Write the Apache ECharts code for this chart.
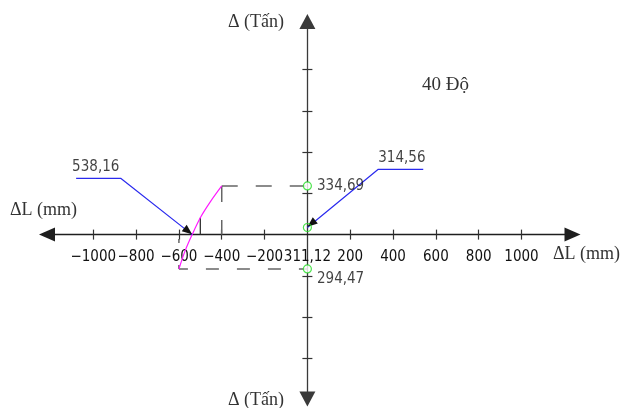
<!DOCTYPE html>
<html>
<head>
<meta charset="utf-8">
<script src="https://cdn.jsdelivr.net/npm/echarts@6/dist/echarts.min.js"></script>
<style>
  html, body { margin: 0; padding: 0; background: #ffffff; }
  #chart { width: 622px; height: 408px; }
</style>
</head>
<body>
<div id="chart"></div>
<script>
// Load–displacement diagram at 40°: ΔL (mm) against load Δ (Tấn).
// The ΔL axis crosses the load axis at BASE_LOAD; loads are plotted relative to it.
const BASE_LOAD = 311.12;

// Axis ticks and labels
const xTickValues  = [-1000, -800, -600, -400, -200, 200, 400, 600, 800, 1000];
const xLabelValues = [-1000, -800, -600, -400, -200, 0, 200, 400, 600, 800, 1000];
const yTickOffsets = [-60, -40, -20, 20, 40, 60, 80];

// Load curve (magenta)
const curveDisp = [-600, -572, -538.16, -500, -452, -400];
const curveLoad = [294.47, 303.0, 311.12, 319.3, 327.2, 334.69];

// Dashed guides: upper and lower corners
const upperCorner = [-400, 334.69];
const lowerCorner = [-600, 294.47];

// Short marker from the ΔL axis up to the curve
const markerDisp = -500;
const markerLoad = 319.3;

// Points on the load axis (green circles)
const axisPointLoads = [334.69, 314.56, 294.47];

// Leader lines: free end, elbow, tip
const leftLeaderDisp  = [-1080, -872, -538.16];
const leftLeaderLoad  = [338.4, 338.4, 311.12];
const leftLeaderValue = 538.16;
const rightLeaderDisp = [541, 331, 0];
const rightLeaderLoad = [342.76, 342.76, 314.56];
const rightLeaderValue = 314.56;

const fmt = v => Math.abs(v).toFixed(2).replace('.', ',');
const rel = t => t - BASE_LOAD;
const pts = (xs, ys) => xs.map((x, i) => [x, rel(ys[i])]);

const NUM_FONT = "'DejaVu Sans Condensed', 'Roboto', sans-serif";
const SERIF = "'Liberation Serif', 'DejaVu Serif', serif";
const NUM_SIZE = 15;

// Axis extents
const X_MIN = -1216, X_MAX = 1238;
const Y_MIN = -79.65, Y_MAX = 103.25;
const GRID = { left: 47, right: 49.5, top: 21.5, bottom: 9 };
// Distance of the ΔL axis from the bottom of the grid (where load offset is 0)
const plotH = 408 - GRID.top - GRID.bottom;
const xAxisLift = plotH * (0 - Y_MIN) / (Y_MAX - Y_MIN);

const chart = echarts.init(document.getElementById('chart'), null, { renderer: 'canvas' });

const xBase = { type: 'value', min: X_MIN, max: X_MAX, splitLine: { show: false } };
const yBase = { type: 'value', min: Y_MIN, max: Y_MAX, splitLine: { show: false } };
const tickStyle = { color: '#333', width: 1.2 };
const labelStyle = { fontFamily: NUM_FONT, fontSize: NUM_SIZE, color: '#111' };

const option = {
  animation: false,
  backgroundColor: '#ffffff',
  grid: Object.assign({ containLabel: false, outerBoundsMode: 'none' }, GRID),
  xAxis: [
    Object.assign({}, xBase, {
      position: 'bottom',
      offset: -xAxisLift,
      axisLine: {
        show: true, onZero: false,
        symbol: ['triangle', 'triangle'], symbolSize: [14, 16],
        lineStyle: { color: '#1e1e1e', width: 1.3 }
      },
      axisTick: { show: true, customValues: xTickValues, length: 5, lineStyle: tickStyle },
      axisLabel: Object.assign({
        show: true, customValues: xLabelValues, margin: 15,
        formatter: v => v === 0 ? fmt(BASE_LOAD) : (v < 0 ? '\u2212' + Math.abs(v) : String(v))
      }, labelStyle)
    }),
    Object.assign({}, xBase, {
      position: 'top',
      axisLine: { show: false, onZero: true, onZeroAxisIndex: 0 },
      axisTick: { show: true, customValues: xTickValues, length: 5, lineStyle: tickStyle },
      axisLabel: { show: false }
    })
  ],
  yAxis: [
    Object.assign({}, yBase, {
      position: 'left',
      axisLine: {
        show: true, onZero: true, onZeroAxisIndex: 0,
        symbol: ['triangle', 'triangle'], symbolSize: [16, 15],
        lineStyle: { color: '#3a3a3a', width: 1.3 }
      },
      axisTick: { show: true, customValues: yTickOffsets, length: 5, lineStyle: tickStyle },
      axisLabel: { show: false }
    }),
    Object.assign({}, yBase, {
      position: 'right',
      axisLine: { show: false, onZero: true, onZeroAxisIndex: 0 },
      axisTick: { show: true, customValues: yTickOffsets, length: 5, lineStyle: tickStyle },
      axisLabel: { show: false }
    })
  ],
  graphic: [
    { type: 'text', left: 10, top: 201, style: { text: '\u0394L (mm)', font: '18px ' + SERIF, fill: '#333' } },
    { type: 'text', left: 553, top: 245, style: { text: '\u0394L (mm)', font: '18px ' + SERIF, fill: '#333' } },
    { type: 'text', left: 228, top: 13, style: { text: '\u0394 (Tấn)', font: '18px ' + SERIF, fill: '#333' } },
    { type: 'text', left: 228, top: 391, style: { text: '\u0394 (Tấn)', font: '18px ' + SERIF, fill: '#333' } },
    { type: 'text', left: 422, top: 76, style: { text: '40 Độ', font: '19px ' + SERIF, fill: '#333' } }
  ],
  series: [
    {
      name: 'upper guide', type: 'line', symbol: 'none', silent: true,
      data: pts([upperCorner[0], 0], [upperCorner[1], upperCorner[1]]),
      lineStyle: { color: '#666', width: 1.5, type: [16, 18] }
    },
    {
      name: 'upper drop', type: 'line', symbol: 'none', silent: true,
      data: pts([upperCorner[0], upperCorner[0]], [upperCorner[1], BASE_LOAD]),
      lineStyle: { color: '#666', width: 1.5, type: [16, 18] }
    },
    {
      name: 'lower guide', type: 'line', symbol: 'none', silent: true,
      data: pts([lowerCorner[0], 0], [lowerCorner[1], lowerCorner[1]]),
      lineStyle: { color: '#666', width: 1.5, type: [13, 18], dashOffset: 4 }
    },
    {
      name: 'lower rise', type: 'line', symbol: 'none', silent: true,
      data: pts([lowerCorner[0], lowerCorner[0]], [lowerCorner[1], BASE_LOAD]),
      lineStyle: { color: '#666', width: 1.5, type: [4, 22] }
    },
    {
      name: 'marker', type: 'line', symbol: 'none', silent: true,
      data: pts([markerDisp, markerDisp], [BASE_LOAD, markerLoad]),
      lineStyle: { color: '#333', width: 1.3 }
    },
    {
      name: 'curve', type: 'line', symbol: 'none', smooth: 0.3, silent: true,
      data: pts(curveDisp, curveLoad),
      lineStyle: { color: '#ff1aff', width: 1.2 }
    },
    {
      name: 'left leader', type: 'line', symbol: 'none', silent: true, z: 4,
      lineStyle: { color: '#2a2aee', width: 1.2 },
      data: [
        { value: [leftLeaderDisp[0], rel(leftLeaderLoad[0])] },
        { value: [leftLeaderDisp[1], rel(leftLeaderLoad[1])] },
        { value: [leftLeaderDisp[2], rel(leftLeaderLoad[2])],
          symbol: 'triangle', symbolSize: [8, 10], symbolRotate: -128, symbolOffset: [-4, -3.5],
          itemStyle: { color: '#111' } }
      ]
    },
    {
      name: 'right leader', type: 'line', symbol: 'none', silent: true, z: 4,
      lineStyle: { color: '#2a2aee', width: 1.2 },
      data: [
        { value: [rightLeaderDisp[0], rel(rightLeaderLoad[0])] },
        { value: [rightLeaderDisp[1], rel(rightLeaderLoad[1])] },
        { value: [rightLeaderDisp[2], rel(rightLeaderLoad[2])],
          symbol: 'triangle', symbolSize: [8, 10], symbolRotate: 129, symbolOffset: [4, -4],
          itemStyle: { color: '#111' } }
      ]
    },
    {
      name: 'leader labels', type: 'scatter', symbol: 'circle', symbolSize: 1, silent: true, z: 6,
      itemStyle: { color: 'rgba(0,0,0,0)' },
      label: Object.assign({ show: true, position: 'top', align: 'left', distance: 3 }, labelStyle),
      data: [
        { value: [leftLeaderDisp[0], rel(leftLeaderLoad[0])], label: { formatter: fmt(leftLeaderValue), offset: [-4, 0] } },
        { value: [rightLeaderDisp[1], rel(rightLeaderLoad[1])], label: { formatter: fmt(rightLeaderValue), offset: [0, 0] } }
      ]
    },
    {
      name: 'axis points', type: 'scatter', symbol: 'circle', symbolSize: 8, z: 5, silent: true,
      itemStyle: { color: '#ffffff', borderColor: '#22dd22', borderWidth: 1.2 },
      data: [
        { value: [0, rel(axisPointLoads[0])],
          label: Object.assign({ show: true, position: 'right', distance: 5, formatter: fmt(axisPointLoads[0]) }, labelStyle) },
        { value: [0, rel(axisPointLoads[1])], itemStyle: { color: 'rgba(255,255,255,0)' } },
        { value: [0, rel(axisPointLoads[2])],
          label: Object.assign({ show: true, position: 'right', distance: 5, offset: [0, 10], formatter: fmt(axisPointLoads[2]) }, labelStyle) }
      ]
    }
  ]
};

chart.setOption(option);
</script>
</body>
</html>
